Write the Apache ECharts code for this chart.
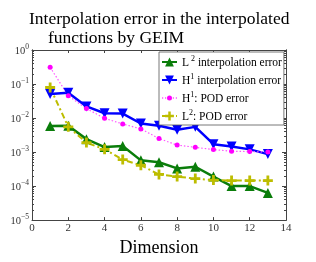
<!DOCTYPE html>
<html><head><meta charset="utf-8">
<script src="https://cdn.jsdelivr.net/npm/echarts@6/dist/echarts.min.js"></script>
<style>html,body{margin:0;padding:0;background:#fff}#c{width:316px;height:262px}</style>
</head><body><div id="c"></div>
<script>
const dims = [1,2,3,4,5,6,7,8,9,10,11,12,13];
const l2Interp = [0.0058,0.0059,0.0024,0.0014,0.0015,0.00057,0.0005,0.00033,0.00037,0.00019,0.0001,0.0001,0.000063];
const h1Interp = [0.051,0.055,0.022,0.0138,0.0135,0.0069,0.0059,0.0045,0.0055,0.0017,0.00145,0.0012,0.00087];
const h1Pod = [0.31,0.045,0.019,0.0098,0.0067,0.0048,0.0025,0.0016,0.00138,0.00118,0.00106,0.00103,0.001];
const l2Pod = [0.079,0.0055,0.0019,0.0012,0.0006,0.00041,0.00022,0.00019,0.000166,0.00015,0.000145,0.000145,0.000145];
const majorTicks = [1e-5,1e-4,1e-3,1e-2,1e-1,1];
const minorTicks = [];
for (let e=-5;e<0;e++){ for(let m=2;m<10;m++){ minorTicks.push(+(m*Math.pow(10,e)).toPrecision(3)); } }
const names = ['L2 interpolation error','H1 interpolation error','H1: POD error','L2: POD error'];
const legendRich = {
  'L2 interpolation error': '{n|L}{s| 2}{n| interpolation error}',
  'H1 interpolation error': '{n|H}{s|1}{n| interpolation error}',
  'H1: POD error': '{n|H}{s|1}{n|: POD error}',
  'L2: POD error': '{n|L}{s|2}{n|: POD error}'
};
const serif = 'Liberation Serif';
const axisCol = '#444';
const chart = echarts.init(document.getElementById('c'));
function pairs(arr){ return dims.map((d,i)=>[d,arr[i]]); }
const plus = 'path://M3.6,0H6.4V3.6H10V6.4H6.4V10H3.6V6.4H0V3.6H3.6Z';
const dotIcon = 'path://M0,6.5H1.2V7.5H0ZM3,6.5H4.2V7.5H3ZM13.8,6.5H15V7.5H13.8ZM10.8,6.5H12V7.5H10.8ZM10,7A2.5,2.5,0,1,1,5,7A2.5,2.5,0,1,1,10,7Z';
const yBase = {type:'log', logBase:10, min:1e-5, max:1, axisLine:{show:true,lineStyle:{color:axisCol,width:1}}, splitLine:{show:false}};
const tfont = {fontFamily:serif,fontSize:17.5,fontWeight:'normal',color:'#000'};
chart.setOption({
  animation:false,
  title:[
    {text:'Interpolation error in the interpolated', left:24, top:5, textStyle:tfont},
    {text:'functions by GEIM', left:43, top:24, textStyle:tfont}
  ],
  grid:{left:32, top:50, width:254, height:181, containLabel:false},
  xAxis:[
    {type:'value', min:0, max:14, interval:2, position:'bottom',
     name:'Dimension', nameLocation:'middle', nameGap:13, nameTextStyle:{fontFamily:serif,fontSize:18,color:'#000'},
     axisLine:{lineStyle:{color:axisCol}}, axisTick:{inside:true,length:3,lineStyle:{color:axisCol}},
     axisLabel:{fontFamily:serif,fontSize:11,color:'#333',margin:3}, splitLine:{show:false}},
    {type:'value', min:0, max:14, interval:2, position:'top',
     axisLine:{show:true,lineStyle:{color:axisCol}}, axisTick:{inside:true,length:3,lineStyle:{color:axisCol}},
     axisLabel:{show:false}, splitLine:{show:false}}
  ],
  yAxis:[
    Object.assign({}, yBase, {position:'left',
      axisTick:{inside:true,length:4,customValues:majorTicks,lineStyle:{color:axisCol}},
      axisLabel:{customValues:majorTicks, margin:3, formatter:v=>{const e=Math.round(Math.log10(v)); return '{b|10}{s|'+(e===0?'0':String(e).replace('-','\u2212'))+'}';},
        rich:{b:{fontFamily:serif,fontSize:10.5,color:'#333',verticalAlign:'bottom',lineHeight:14},
              s:{fontFamily:serif,fontSize:7.5,color:'#333',verticalAlign:'top',lineHeight:14}}}}),
    Object.assign({}, yBase, {position:'left',
      axisTick:{inside:true,length:2,customValues:minorTicks,lineStyle:{color:axisCol}},
      axisLabel:{show:false}}),
    Object.assign({}, yBase, {position:'right',
      axisTick:{inside:true,length:4,customValues:majorTicks,lineStyle:{color:axisCol}},
      axisLabel:{show:false}}),
    Object.assign({}, yBase, {position:'right',
      axisTick:{inside:true,length:2,customValues:minorTicks,lineStyle:{color:axisCol}},
      axisLabel:{show:false}})
  ],
  legend:{
    orient:'vertical', left:159, top:52, padding:[3,2,2,2], itemGap:4, itemWidth:15, itemHeight:11,
    borderColor:'#555', borderWidth:0.8, backgroundColor:'#fff', borderRadius:0,
    data:[{name:names[0]},{name:names[1]},{name:names[2],icon:dotIcon},{name:names[3]}],
    formatter:n=>legendRich[n],
    textStyle:{fontFamily:serif,fontSize:11.5,color:'#000',
      rich:{n:{fontFamily:serif,fontSize:11.5,color:'#000',verticalAlign:'bottom',lineHeight:14},
            s:{fontFamily:serif,fontSize:8,color:'#000',verticalAlign:'top',lineHeight:14}}}
  },
  series:[
    {name:names[0], type:'line', data:pairs(l2Interp), color:'#0a7d0a', symbol:'triangle', symbolSize:10,
     lineStyle:{width:2.5,color:'#0a7d0a'}, itemStyle:{color:'#0a7d0a'}},
    {name:names[1], type:'line', data:pairs(h1Interp), color:'#0000ff', symbol:'triangle', symbolRotate:180, symbolSize:10,
     lineStyle:{width:2.5,color:'#0000ff'}, itemStyle:{color:'#0000ff'}},
    {name:names[2], type:'line', data:pairs(h1Pod), color:'#ff00ff', symbol:'circle', symbolSize:5,
     lineStyle:{width:1.2,type:[1.5,2],color:'#ff55ff'}, itemStyle:{color:'#ff00ff'}},
    {name:names[3], type:'line', data:pairs(l2Pod), color:'#bdbd00', symbol:plus, symbolSize:10,
     lineStyle:{width:2,type:[6,3,2,3],color:'#bdbd00'}, itemStyle:{color:'#bdbd00'}}
  ]
});
</script></body></html>
